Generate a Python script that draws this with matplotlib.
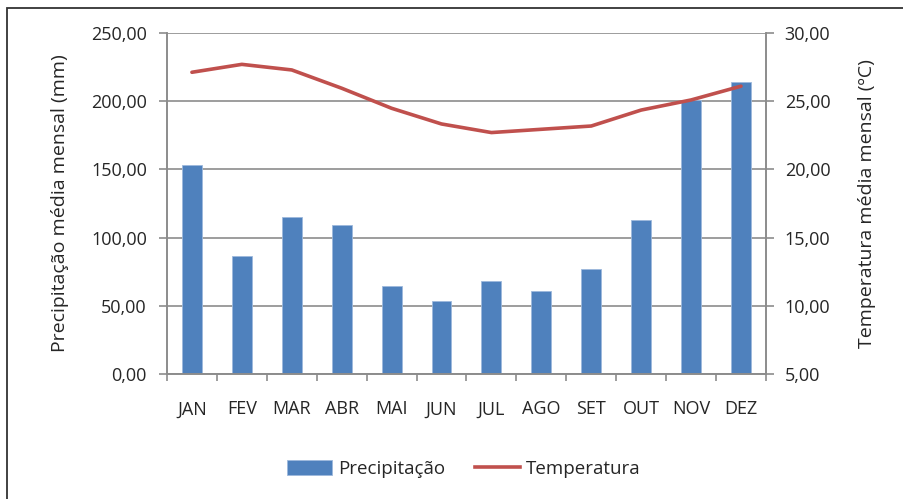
import matplotlib.pyplot as plt
import numpy as np
from matplotlib.patches import Rectangle, Patch
from matplotlib.lines import Line2D
from matplotlib.ticker import FuncFormatter, FixedLocator

plt.rcParams['font.family'] = ['Open Sans', 'DejaVu Sans']

# Monthly climate data
meses = ['JAN', 'FEV', 'MAR', 'ABR', 'MAI', 'JUN', 'JUL', 'AGO', 'SET', 'OUT', 'NOV', 'DEZ']
precipitacao = [153.2, 86.5, 115.3, 108.9, 64.4, 53.2, 68.3, 61.0, 77.1, 112.9, 201.0, 214.3]
temperatura = [27.12, 27.70, 27.29, 25.95, 24.48, 23.33, 22.70, 22.94, 23.18, 24.35, 25.09, 26.10]

bar_color = '#4F81BD'
line_color = '#C0504D'
grid_color = '#8C8C8C'
text_color = '#262626'
fs = 13

fig = plt.figure(figsize=(9.04, 4.99), dpi=100)
ax1 = fig.add_axes([0.1847, 0.2505, 0.6626, 0.6834])
ax2 = ax1.twinx()

x = np.arange(len(meses))
ax1.bar(x, precipitacao, width=0.4, color=bar_color, edgecolor='#9DB9DC', linewidth=0.6, zorder=2)
ax2.plot(x, temperatura, color=line_color, linewidth=2.6, solid_capstyle='round', zorder=3)

ax1.set_xlim(-0.5, len(meses) - 0.5)
ax1.set_ylim(0, 250)
ax2.set_ylim(5, 30)
ax1.set_yticks(np.arange(0, 251, 50))
ax2.set_yticks(np.arange(5, 31, 5))

fmt = FuncFormatter(lambda v, p: f'{v:.2f}'.replace('.', ','))
ax1.yaxis.set_major_formatter(fmt)
ax2.yaxis.set_major_formatter(fmt)

ax1.set_xticks(x)
ax1.set_xticklabels(meses)
ax1.xaxis.set_minor_locator(FixedLocator(np.arange(-0.5, len(meses), 1.0)))
ax1.tick_params(axis='x', which='major', length=0, pad=19, labelsize=fs, labelcolor=text_color)
ax1.tick_params(axis='x', which='minor', length=5, width=1.2, color=grid_color, direction='out')
ax1.tick_params(axis='y', length=5.5, width=1.2, color=grid_color, labelsize=fs,
                labelcolor=text_color, pad=9)
ax2.tick_params(axis='y', length=5.5, width=1.2, color=grid_color, labelsize=fs,
                labelcolor=text_color, pad=8)

ax1.yaxis.grid(True, color=grid_color, linewidth=1.2, zorder=0)
ax1.set_axisbelow(True)

for ax in (ax1, ax2):
    ax.spines['top'].set_visible(False)
    for side in ('left', 'right', 'bottom'):
        ax.spines[side].set_color(grid_color)
        ax.spines[side].set_linewidth(1.2)

ax1.set_ylabel('Precipitação média mensal (mm)', fontsize=14, color=text_color, labelpad=16)
ax2.set_ylabel('Temperatura média mensal (ºC)', fontsize=14, color=text_color, labelpad=20)

handles = [Patch(facecolor=bar_color, edgecolor='#9DB9DC', linewidth=0.6),
           Line2D([0], [0], color=line_color, linewidth=2.6)]
fig.legend(handles, ['Precipitação', 'Temperatura'], loc='center',
           bbox_to_anchor=(0.513, 0.06), ncol=2, frameon=False, fontsize=13.5,
           handlelength=2.4, handleheight=0.8, columnspacing=1.6, handletextpad=0.3,
           labelcolor=text_color)

# outer chart frame
fig.patches.append(Rectangle((7 / 904, -0.05), 1.05, 1 - 8 / 499 + 0.05,
                             transform=fig.transFigure, fill=False,
                             edgecolor='#333333', linewidth=1.3))

fig.savefig('out.png', dpi=100)
